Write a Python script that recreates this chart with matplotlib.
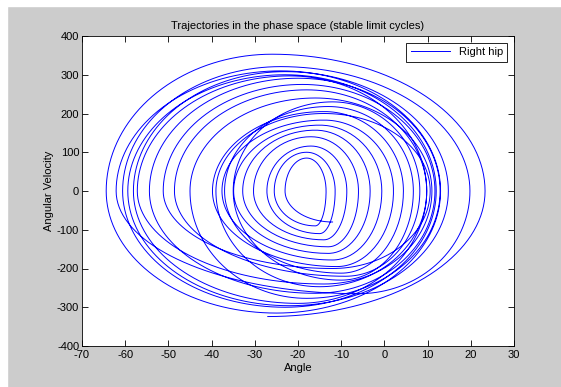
import numpy as np
import matplotlib.pyplot as plt
from matplotlib.patches import Rectangle

# 各周期の読み取り値 (軌道の順)
left_ang = [-23.0, -25.5, -27.2, -30.3, -32.8, -34.9, -37.6, -39.8, -37.0, -35.0, -48.6,
            -39.0, -51.2, -54.4, -45.0, -57.2, -58.1, -59.4, -60.6, -62.1, -64.4]
right_ang = [-13.5, -11.4, -8.7, -6.0, -3.3, -0.6, 2.1, 4.4, 6.7, 8.2, 9.8,
             10.6, 11.7, 12.9, 11.0, 9.8, 14.8, 12.0, 19.8, 13.0, 23.3]
top_vel = [85, 100, 116, 140, 157, 170, 183, 205, 218, 230, 261,
           200, 275, 291, 240, 297, 308, 300, 321, 310, 353]
top_ang = [-18, -18, -17, -17, -16, -15, -14, -14, -13, -12, -18,
           -14, -19, -20, -16, -22, -23, -23, -24, -24, -26]
bottom_vel = [-90, -110, -126, -144, -161, -178, -195, -212, -230, -220, -247,
              -200, -264, -277, -240, -290, -296, -300, -265, -315, -324]
bottom_ang = [-16, -15, -14, -13, -13, -12, -11, -10, -10, -9, -15,
              -12, -16, -18, -14, -20, -22, -23, -6, -25, -27]
start_pt = (-12, -80)

# 軌道の組み立て (各四半周を楕円弧でつなぐ)
th = np.linspace(0, np.pi / 2, 40)
xs, ys = [], []
n = len(left_ang)
for i in range(n):
    L, R, T, B = left_ang[i], right_ang[i], top_vel[i], bottom_vel[i]
    xt, xb = top_ang[i], bottom_ang[i]
    # 下端 -> 左端 (最初は開始点から)
    if i == 0:
        pxb, pB = start_pt
    else:
        pxb, pB = bottom_ang[i - 1], bottom_vel[i - 1]
    xs.append(pxb - (pxb - L) * np.sin(th))
    ys.append(pB * np.cos(th))
    # 左端 -> 上端
    xs.append(xt - (xt - L) * np.cos(th))
    ys.append(T * np.sin(th))
    # 上端 -> 右端
    xs.append(xt + (R - xt) * np.sin(th))
    ys.append(T * np.cos(th))
    # 右端 -> 下端
    xs.append(xb + (R - xb) * np.cos(th))
    ys.append(B * np.sin(th))
x = np.concatenate(xs)
y = np.concatenate(ys)

plt.rcParams['font.family'] = ['Liberation Sans', 'DejaVu Sans']
plt.rcParams['axes.unicode_minus'] = False

fig = plt.figure(figsize=(5.61, 3.87), dpi=100, facecolor='#cccccc')
fig.patches.append(Rectangle((0, 0), 7 / 561, 1, transform=fig.transFigure,
                             color='white', zorder=-1))
fig.patches.append(Rectangle((0, 1 - 6 / 387), 1, 6 / 387, transform=fig.transFigure,
                             color='white', zorder=-1))
ax = fig.add_axes([82 / 561, 1 - 346 / 387, 432 / 561, 310 / 387])

ax.plot(x, y, color='#0000ff', lw=0.7, label='Right hip')
ax.set_xlim(-70, 30)
ax.set_ylim(-400, 400)
ax.set_xticks(np.arange(-70, 31, 10))
ax.set_yticks(np.arange(-400, 401, 100))
ax.tick_params(direction='in', length=4, labelsize=8, top=True, right=True,
               width=0.6)
ax.tick_params(axis='x', pad=3)
ax.tick_params(axis='y', pad=2)
for s in ax.spines.values():
    s.set_linewidth(0.6)
ax.set_xlabel('Angle', fontsize=8, labelpad=2)
ax.set_ylabel('Angular Velocity', fontsize=8, labelpad=2)
ax.set_title('Trajectories in the phase space (stable limit cycles)', fontsize=8, pad=5)
leg = ax.legend(loc='upper right', fontsize=8, fancybox=False, framealpha=1,
                edgecolor='black', handlelength=3.5, borderaxespad=0.6)
leg.get_frame().set_linewidth(0.6)

fig.savefig('out.png', dpi=100, facecolor=fig.get_facecolor())
